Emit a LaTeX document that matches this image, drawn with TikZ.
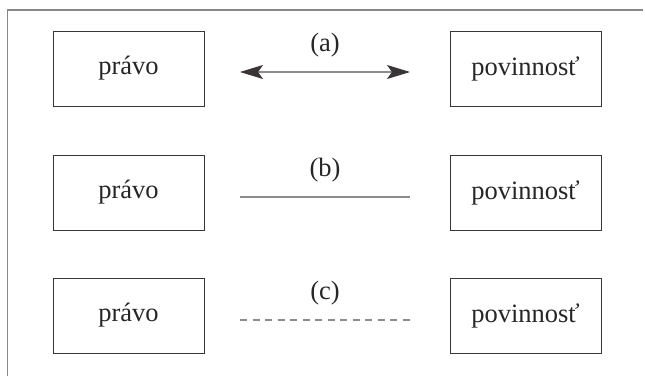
\documentclass[tikz,border=0pt]{standalone}
\usepackage{fontspec}
\setmainfont{Liberation Serif}
\usetikzlibrary{arrows.meta}
\definecolor{framegray}{HTML}{8A8688}
\definecolor{boxline}{HTML}{3A3436}
\definecolor{linkgray}{HTML}{8C8C8C}
\tikzset{
  termbox/.style={draw=boxline, line width=0.9pt, minimum width=151pt, minimum height=75pt, inner sep=0pt, font=\fontsize{26.5}{30}\selectfont, text=black!85},
  tag/.style={font=\fontsize{26.5}{30}\selectfont, text=black!85, inner sep=0pt},
  link/.style={draw=linkgray, line width=1.1pt},
  bigtip/.tip={Stealth[length=23pt, width=14pt, inset=5pt, color=boxline]}
}
\begin{document}
\begin{tikzpicture}[x=1pt, y=-1pt]
  \useasboundingbox (0,0) rectangle (645,376);
  % frame: left and top edges only
  \draw[framegray, line width=1.6pt] (7.5,376) -- (7.5,10) -- (643,10);

  % row (a)
  \node[termbox] (ra) at (128.5,68.5) {právo};
  \node[termbox] (pa) at (525.5,68.5) {povinnosť};
  \coordinate (a1) at (240,72);
  \coordinate (a2) at (410,72);
  \draw[link, {bigtip}-{bigtip}] (a1) -- (a2);
  \node[tag] (la) at (325,45) {(a)};

  % row (b)
  \node[termbox] (rb) at (128.5,192.5) {právo};
  \node[termbox] (pb) at (525.5,192.5) {povinnosť};
  \coordinate (b1) at (240,197);
  \coordinate (b2) at (410,197);
  \draw[link] (b1) -- (b2);
  \node[tag] (lb) at (325,170) {(b)};

  % row (c)
  \node[termbox] (rc) at (128.5,315.5) {právo};
  \node[termbox] (pc) at (525.5,315.5) {povinnosť};
  \coordinate (c1) at (240,320);
  \coordinate (c2) at (410,320);
  \draw[link, dash pattern=on 7pt off 5.5pt] (c1) -- (c2);
  \node[tag] (lc) at (325,293) {(c)};
\end{tikzpicture}
\end{document}
